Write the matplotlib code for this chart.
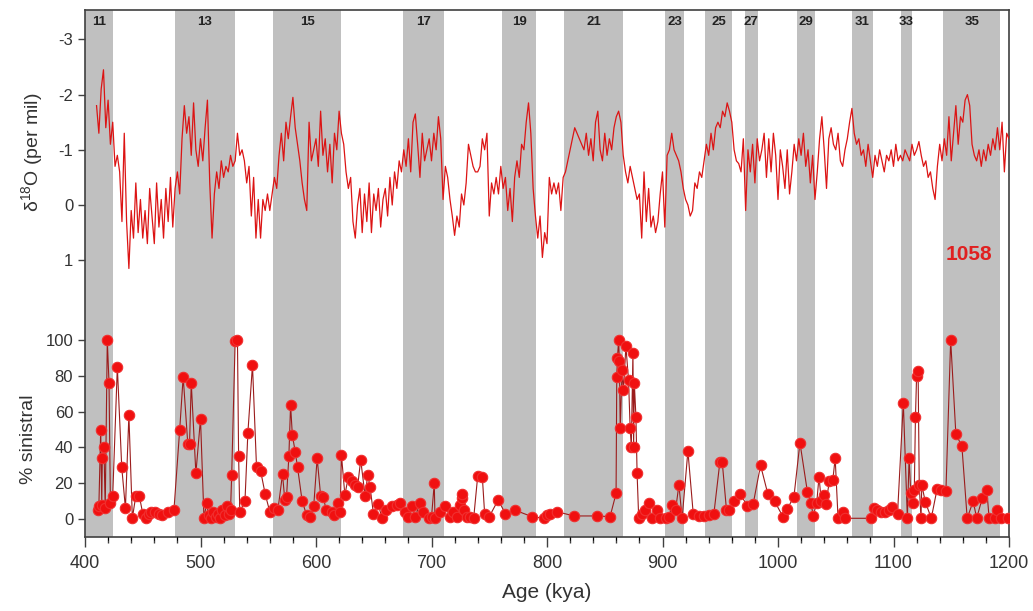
import numpy as np
import matplotlib.pyplot as plt

plt.rcParams['font.family'] = ['Liberation Sans', 'DejaVu Sans']
plt.rcParams['axes.unicode_minus'] = False

# MIS stages (glacial bands)
stages = [11, 13, 15, 17, 19, 21, 23, 25, 27, 29, 31, 33, 35]
band_start = [395, 477.5, 563, 675, 761, 815, 902.5, 937, 971, 1016.5, 1064, 1106.5, 1143]
band_end = [424, 530, 622, 711, 790.6, 866, 919, 960, 983, 1032, 1082, 1116, 1192.5]

# d18O record, one value every 2 kya from 410 kya
d18o = [
    -1.8, -1.3, -2.1, -2.45, -1.4, -1.9, -1.1, -1.5, -0.7, -0.9,
    -0.6, 0.3, -1.3, 0.3, 1.15, 0.1, 0.6, -0.4, 0.5, -0.1,
    0.6, 0.1, 0.7, -0.3, 0.2, 0.7, -0.4, 0.4, -0.1, 0.6,
    -0.3, 0.3, -0.5, 0.4, -0.3, -0.6, -0.2, -1.2, -1.8, -1.3,
    -1.6, -0.9, -1.85, -1.0, -0.7, -1.2, -0.8, -1.4, -1.9, -0.4,
    0.6, -0.2, -0.6, -0.3, -0.8, -0.5, -0.7, -0.6, -0.9, -0.7,
    -0.8, -1.3, -0.9, -1.0, -0.8, -0.4, -0.7, 0.2, -0.5, 0.6,
    -0.1, 0.6, -0.1, 0.1, -0.2, 0.1, -0.2, -0.5, -0.3, -0.9,
    -1.3, -0.8, -1.5, -1.2, -1.6, -1.95, -1.4, -1.1, -0.8, -0.4,
    -0.1, 0.1, -1.5, -0.8, -1.0, -1.2, -0.7, -1.7, -0.9, -1.2,
    -0.6, -1.1, -0.4, -1.3, -1.0, -1.7, -1.3, -1.1, -0.6, -0.3,
    -0.5, 0.3, 0.6, 0.0, -0.3, 0.5, -0.2, 0.3, -0.4, 0.5,
    -0.2, 0.1, -0.3, 0.4, -0.1, -0.3, 0.2, -0.5, 0.0, -0.6,
    -0.3, -0.8, -0.6, -1.0, -0.7, -1.2, -0.6, -1.5, -1.65, -1.1,
    -0.5, -1.3, -0.8, -1.0, -1.2, -0.8, -1.3, -1.0, -1.6, -1.2,
    -0.1, -0.7, -0.5, -0.1, 0.2, 0.55, 0.2, 0.4, -0.2, 0.0,
    -0.4, -1.1, -0.9, -0.7, -0.6, -0.6, -0.7, -1.2, -1.0, -1.3,
    0.2, -0.4, -0.2, -0.5, -0.2, -0.7, -0.3, -0.5, 0.1, -0.3,
    0.3, -0.5, -0.8, -0.5, -1.1, -1.0, -1.5, -1.85, -1.3, -0.3,
    0.2, 0.6, 0.2, 0.95, 0.5, 0.7, -0.5, -0.2, -0.4, -0.2,
    -0.4, 0.1, -0.5, -0.6, -0.8, -1.0, -1.2, -1.4, -1.3, -1.2,
    -1.1, -1.0, -1.3, -0.9, -1.2, -0.8, -1.5, -1.7, -1.0, -0.8,
    -1.3, -0.9, -1.2, -1.0, -1.4, -1.6, -1.7, -1.5, -0.9, -0.6,
    -0.4, -0.7, -0.5, -0.3, -0.1, -0.2, 0.6, -0.6, 0.3, -0.3,
    0.4, 0.2, 0.5, 0.3, -0.2, -0.6, 0.4, -0.9, -1.0, -1.3,
    -1.0, -0.9, -0.8, -0.6, -0.3, -0.1, 0.0, 0.2, 0.1, -0.4,
    -0.3, -0.6, -0.5, -0.8, -1.1, -0.9, -1.3, -1.0, -1.4, -1.5,
    -1.4, -1.7, -1.6, -1.85, -1.7, -1.5, -1.0, -0.8, -0.75, -0.6,
    -1.2, 0.1, -1.0, -0.6, -1.1, -0.4, -1.2, -0.8, -1.0, -1.3,
    -0.5, -1.2, -0.6, -1.3, -0.9, -0.1, -1.0, -0.7, -0.3, -1.0,
    -0.2, -0.6, -1.1, -0.8, -1.2, -0.9, -1.3, -0.7, -1.0, -0.4,
    -0.9, -0.1, -0.6, -1.2, -1.6, -1.0, -0.3, -1.2, -1.4, -1.1,
    -1.0, -1.3, -0.8, -0.7, -1.0, -1.2, -1.5, -1.75, -1.3, -1.1,
    -1.2, -0.9, -1.0, -0.7, -1.1, -0.8, -0.5, -0.9, -0.7, -1.0,
    -0.8, -0.6, -0.9, -0.8, -1.0, -0.7, -1.1, -0.8, -0.9, -0.8,
    -1.0, -0.9, -0.8, -1.1, -0.9, -1.0, -1.15, -0.9, -0.7, -0.8,
    -0.5, -0.6, -0.3, -0.1, -0.7, -1.1, -0.8, -1.2, -0.9, -1.6,
    -0.8, -1.3, -1.8, -1.1, -1.6, -1.5, -1.9, -2.0, -1.8, -1.1,
    -0.9, -0.8, -1.0, -0.7, -1.0, -0.8, -1.1, -0.9, -1.2, -1.0,
    -1.4, -1.0, -1.5, -0.6, -1.3, -1.2,
]
d18o_age = np.arange(410, 410 + 2 * len(d18o), 2)

# % sinistral samples
sin_age = [
    411, 412, 413.6, 414.5, 415, 416.4, 417.5, 419.3, 420.8, 422, 424, 428, 431.8, 435, 438,
    441, 444, 447, 450, 452.5, 455, 457, 461, 464, 467, 471.5, 477, 482, 485, 489, 490.5,
    492, 496, 500, 503, 505.3, 507, 509, 511, 513, 515, 517, 519, 521, 523, 525, 526,
    527, 530, 532, 533, 534, 538.5, 541, 545, 548.5, 552, 556, 560, 564, 567, 571, 573,
    574.5, 576.5, 578, 579.5, 582, 584, 588, 592, 595, 598, 601, 604, 606, 609, 613.6,
    616, 619, 621, 622, 625, 628, 631, 633.8, 636, 638.7, 642.5, 644.8, 646.8, 649.7,
    654, 657, 661, 665.7, 670, 672.7, 677, 680, 683, 686, 690, 693, 697.5, 700, 702.4,
    703, 707.6, 712, 716, 719, 722, 725, 726, 726.5, 728.5, 730.7, 733.6, 736.5, 740,
    744, 746, 750, 757.7, 764, 772, 787, 797.5, 800, 803, 809, 823.4, 843.5, 854.6,
    859.8, 860.4, 861, 862, 862.7, 863.4, 865, 866.2, 868.3, 870.6, 872, 873, 874.4,
    875, 875.6, 877, 878, 879.4, 882, 885, 888, 891, 895, 898, 902.6, 905.5, 908.4,
    911.3, 914.2, 917, 922, 926.6, 931.5, 935.8, 940, 944.5, 949.7, 951.7, 955.4, 957.5,
    961.8, 967.5, 973.3, 978.5, 984.9, 991.2, 997, 1004.5, 1008, 1013.8, 1019, 1025.5,
    1028.5, 1030.5, 1033.5, 1035.5, 1037.5, 1040, 1041.5, 1044.5, 1047.5, 1049.5, 1052,
    1056.5, 1058, 1080.5, 1083, 1086, 1089, 1092.5, 1096, 1099, 1103.5, 1108.5, 1112,
    1113.5, 1115, 1116.5, 1118, 1119, 1120, 1121.3, 1122.3, 1123.8, 1124.5, 1127.5,
    1132.7, 1137.8, 1141.5, 1145.4, 1149.5, 1154, 1159.2, 1163.8, 1169, 1172, 1177,
    1180.8, 1182.8, 1187.5, 1190, 1193.2, 1199,
]
sin_pct = [
    5, 7, 50, 8, 34, 40, 6, 100, 76, 9, 13, 85, 29, 6, 58,
    0.5, 13, 13, 3, 0.5, 3, 4, 4, 3, 2, 4, 5, 50, 79.5, 42, 42,
    76, 25.5, 56, 0.5, 9, 2, 0.5, 4, 1, 3, 0.5, 5, 2, 7, 3, 5,
    24.6, 99.5, 100, 35, 4, 10, 48, 86, 29, 27, 14, 4, 6, 5, 25, 10.6,
    12.5, 35, 63.7, 47, 37.6, 29, 10, 2, 1.3, 7, 34, 13, 12.5, 5, 4,
    2, 9, 4, 36, 13.4, 23.6, 21, 19, 18, 33, 13, 24.6, 18, 3,
    8.4, 0.4, 5, 7, 8, 9, 4, 1.3, 7, 1.3, 9, 4, 0.4, 1, 20,
    0.4, 4, 7, 1.3, 4, 1.3, 8, 11.5, 14, 5, 1.3, 1.3, 0.4, 24,
    23.6, 3, 1.3, 10.6, 3, 5, 1.3, 0.4, 2, 3, 4, 1.7, 1.7, 1.3,
    14.3, 79.5, 90, 100, 88, 50.6, 83, 72, 96.6, 77.6, 50.6, 40.4, 93,
    40, 76, 57, 25.5, 0.4, 3, 5, 9, 0.4, 5, 0.4, 0.4, 1.3, 7.8,
    5, 19, 0.4, 38, 3, 1.9, 1.7, 2.2, 3, 32, 32, 5, 5,
    10, 14, 7.3, 8.4, 30, 14, 10, 1, 5.6, 12.5, 42.6, 15,
    9, 1.9, 8.8, 23.6, 10, 13.4, 8.4, 21.4, 22, 34, 0.4,
    4, 0.4, 0.4, 6, 5, 4, 4, 5, 6.5, 3, 65, 0.4,
    34, 14.3, 8.8, 16, 56.8, 80, 82.7, 19, 0.4, 19, 9.7,
    0.4, 17, 16, 15.8, 100, 47.3, 40.8, 0.4, 10, 0.4, 12,
    16, 0.4, 0.4, 5, 0.4, 0.4,
]

W, H = 1033, 611
fig = plt.figure(figsize=(W / 100, H / 100), dpi=100)
pos = [85 / W, 1 - 537 / H, (1009 - 85) / W, (537 - 10) / H]

frame_c = '#404040'
tick_c = '#333333'

# base axes: bands, frame and age axis
ax = fig.add_axes(pos)
ax.set_xlim(400, 1200)
ax.set_ylim(0, 1)
for s0, s1 in zip(band_start, band_end):
    ax.axvspan(s0, s1, color='#c0c0c0', lw=0, zorder=0)
for st, s0, s1 in zip(stages, band_start, band_end):
    ax.text((max(s0, 400) + min(s1, 1200)) / 2, 0.988, str(st), ha='center', va='top',
            fontsize=9.5, fontweight='bold', color='#222222')
ax.set_yticks([])
ax.set_xticks(np.arange(400, 1201, 100))
ax.set_xticks(np.arange(400, 1201, 20), minor=True)
ax.tick_params(axis='x', which='major', length=7, width=1, colors=frame_c,
               labelsize=13, labelcolor=tick_c, pad=6)
ax.tick_params(axis='x', which='minor', length=4, width=1, colors=frame_c)
ax.spines['bottom'].set_visible(False)
for side in ['left', 'top', 'right']:
    ax.spines[side].set_color(frame_c)
    ax.spines[side].set_linewidth(1.2)
ax.set_xlabel('Age (kya)', fontsize=15, color=tick_c, labelpad=8)
# bottom axis line
ax.axhline(0, color=frame_c, lw=1.2, clip_on=False)

# upper panel: d18O
ax1 = fig.add_axes(pos, sharex=ax)
ax1.patch.set_visible(False)
ax1.set_ylim((537 - 205) / 55.2, (10 - 205) / 55.2)
ax1.plot(d18o_age, d18o, color='#dc1414', lw=0.9)
ax1.set_yticks([-3, -2, -1, 0, 1])
ax1.tick_params(axis='y', length=5, width=1, colors=frame_c, labelsize=12,
                labelcolor=tick_c)
ax1.tick_params(axis='x', bottom=False, labelbottom=False)
for sp in ax1.spines.values():
    sp.set_visible(False)
ax1.set_ylabel(r'$\mathregular{\delta^{18}O}$ (per mil)', fontsize=14, color=tick_c)
ax1.yaxis.set_label_coords(-0.043, 0.73)
ax1.text(1165, 0.89, '1058', color='#e02020', fontsize=15, fontweight='bold',
         ha='center', va='center')

# lower panel: % sinistral
ax2 = fig.add_axes(pos, sharex=ax)
ax2.patch.set_visible(False)
ax2.set_ylim((519 - 537) / 1.79, (519 - 10) / 1.79)
ax2.plot(sin_age, sin_pct, color='#9b1c1c', lw=0.8, marker='o', ms=7.5,
         mfc='#f01010', mec='#f03030', mew=0.8)
ax2.set_yticks(np.arange(0, 101, 20))
ax2.tick_params(axis='y', length=5, width=1, colors=frame_c, labelsize=12,
                labelcolor=tick_c)
ax2.tick_params(axis='x', bottom=False, labelbottom=False)
for sp in ax2.spines.values():
    sp.set_visible(False)
ax2.set_ylabel('% sinistral', fontsize=14, color=tick_c)
ax2.yaxis.set_label_coords(-0.052, 0.185)

fig.savefig('out.png', dpi=100)
